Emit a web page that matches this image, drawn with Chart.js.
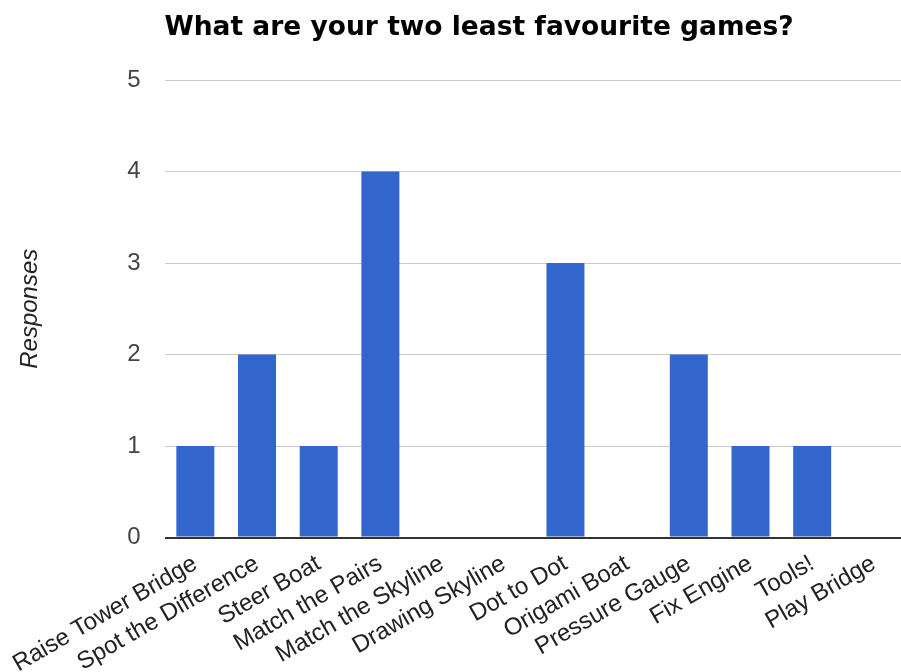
<!DOCTYPE html>
<html>
<head>
<meta charset="utf-8">
<title>Least favourite games</title>
<script src="https://cdn.jsdelivr.net/npm/chart.js@4.4.1/dist/chart.umd.min.js"></script>
<style>
  html, body { margin: 0; padding: 0; background: #fff; overflow: hidden; }
  #wrap { width: 901px; height: 672px; }
</style>
</head>
<body>
<div id="wrap"><canvas id="myChart"></canvas></div>
<script>
var games = ['Raise Tower Bridge', 'Spot the Difference', 'Steer Boat', 'Match the Pairs',
    'Match the Skyline', 'Drawing Skyline', 'Dot to Dot', 'Origami Boat',
    'Pressure Gauge', 'Fix Engine', 'Tools!', 'Play Bridge'];
var responses = [1, 2, 1, 4, 0, 0, 3, 0, 2, 1, 1, 0];
var yTicks = [0, 1, 2, 3, 4, 5];

var fontFamily = '"Liberation Sans", Arial, sans-serif';

// games sit on a linear x scale so the plot can run past the last category
var points = [];
for (var i = 0; i < games.length; i++) {
    points.push({ x: i, y: responses[i] });
}

var ctx = document.getElementById('myChart').getContext('2d');
var myChart = new Chart(ctx, {
    type: 'bar',
    data: {
        datasets: [{
            label: 'Responses',
            data: points,
            backgroundColor: '#3366cc',
            borderWidth: 0,
            categoryPercentage: 1,
            barPercentage: 0.616
        }]
    },
    options: {
        responsive: true,
        maintainAspectRatio: false,
        animation: false,
        layout: { padding: 0 },
        plugins: {
            legend: { display: false },
            tooltip: { enabled: false },
            title: {
                display: true,
                text: 'What are your two least favourite games?',
                align: 'start',
                fullSize: false,
                color: '#000',
                font: { family: '"DejaVu Sans", sans-serif', size: 26.5, weight: 'bold' },
                padding: { top: 12, bottom: 36.2 }
            }
        },
        scales: {
            x: {
                type: 'linear',
                offset: false,
                min: -0.5,
                max: 11.44,
                afterBuildTicks: function(scale) {
                    scale.ticks = games.map(function(g, i) { return { value: i }; });
                },
                afterFit: function(scale) {
                    // rotated labels may hang left of the plot, keep the plot where it is
                    scale.height = 134.5;
                    scale.paddingLeft = 0;
                    scale.paddingRight = 0;
                },
                grid: { display: false, drawTicks: false },
                border: { display: false },
                ticks: {
                    autoSkip: false,
                    minRotation: 30,
                    maxRotation: 30,
                    padding: 12,
                    color: '#222',
                    font: { family: fontFamily, size: 24 },
                    callback: function(value) { return games[value]; }
                }
            },
            y: {
                min: 0,
                max: 5,
                afterBuildTicks: function(scale) {
                    scale.ticks = yTicks.map(function(v) { return { value: v }; });
                },
                afterFit: function(scale) { scale.width = 164.5; },
                border: { display: false },
                grid: {
                    drawTicks: false,
                    color: function(c) { return c.tick && c.tick.value === 0 ? '#333' : '#ccc'; },
                    lineWidth: function(c) { return c.tick && c.tick.value === 0 ? 2 : 1; }
                },
                ticks: {
                    padding: 24,
                    color: '#444',
                    font: { family: fontFamily, size: 24 }
                },
                title: {
                    display: true,
                    text: 'Responses',
                    color: '#222',
                    font: { family: fontFamily, size: 24, style: 'italic' },
                    padding: { top: 16 }
                }
            }
        }
    }
});
</script>
</body>
</html>
